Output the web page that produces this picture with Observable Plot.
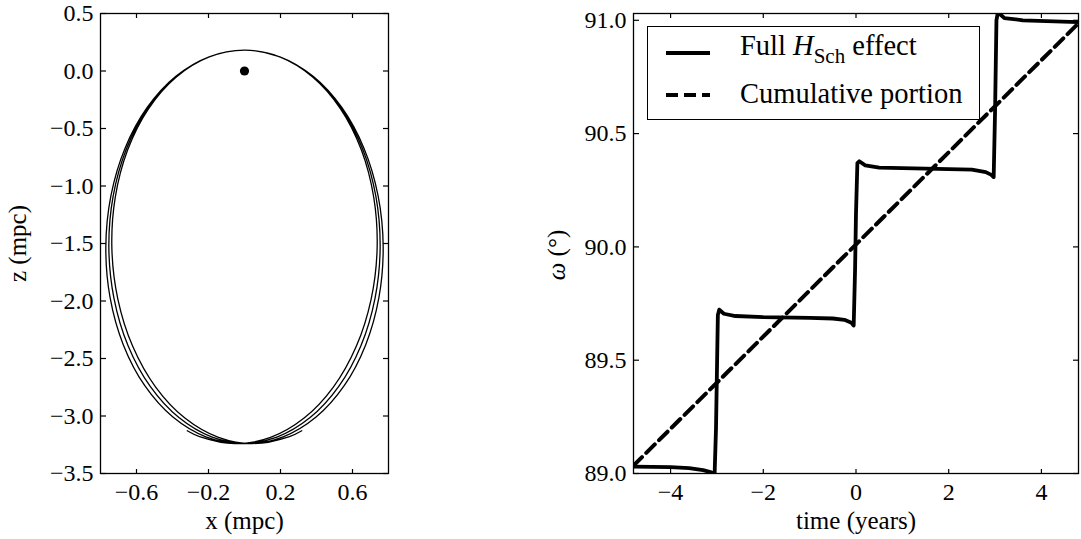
<!DOCTYPE html>
<html>
<head>
<meta charset="utf-8">
<script src="https://cdn.jsdelivr.net/npm/d3@7"></script>
<script src="https://cdn.jsdelivr.net/npm/@observablehq/plot@0.6"></script>
<style>
html, body { margin: 0; padding: 0; background: #fff; }
#wrap { position: relative; width: 1081px; height: 539px; overflow: hidden; font-family: "Liberation Serif", "Times New Roman", serif; }
.panel { position: absolute; top: 0; }
.panel text { font-family: "Liberation Serif", "Times New Roman", serif !important; }
#ylab2 { position: absolute; left: 557px; top: 255px; transform: translate(-50%, -50%) rotate(-90deg); font-size: 25px; white-space: nowrap; color: #000; }
#legend { position: absolute; left: 647px; top: 26px; width: 333px; height: 94px; box-sizing: border-box; border: 1.3px solid #000; background: #fff; }
#legend text { font-family: "Liberation Serif", "Times New Roman", serif; }
</style>
</head>
<body>
<div id="wrap"></div>
<script>
// ---------- Left panel: orbit in the x-z plane (mpc) ----------
const orbitX = [
  -0.3182, -0.2497, -0.0535, 0.1447, 0.3313, 0.4936, 0.6205, 0.7034, 0.7368, 0.7181, 0.6488, 0.5335, 0.3802, 0.1992, 0.0030,
  -0.1965, -0.3813, -0.5406, -0.6636, -0.7420, -0.7704, -0.7469, -0.6730, -0.5539, -0.3976, -0.2147, -0.0178, 0.1797, 0.3644, 0.5237, 0.6468, 0.7251, 0.7536, 0.7300, 0.6562, 0.5370, 0.3807, 0.1979, 0.0010,
  -0.1979, -0.3807, -0.5370, -0.6562, -0.7300, -0.7536, -0.7251, -0.6468, -0.5237, -0.3644, -0.1797, 0.0178, 0.2147, 0.3976, 0.5539, 0.6730, 0.7469, 0.7704, 0.7420, 0.6636, 0.5406, 0.3813, 0.1965, -0.0010,
  -0.1992, -0.3802, -0.5335, -0.6488, -0.7181, -0.7368, -0.7034, -0.6205, -0.4936, -0.3313, -0.1447, 0.0535, 0.2497, 0.3182
];
const orbitZ = [
  -3.1286, -3.1794, -3.241, -3.1860, -3.0181, -2.7488, -2.3964, -1.9849, -1.5426, -1.0993, -0.6854, -0.3290, -0.0545, 0.1194, 0.181,
  0.1238, -0.0461, -0.3171, -0.6709, -1.0832, -1.5258, -1.9688, -2.3819, -2.7369, -3.0097, -3.1816, -3.241, -3.1838, -3.0139, -2.7429, -2.3891, -1.9768, -1.5342, -1.0912, -0.6781, -0.3231, -0.0503, 0.1216, 0.181,
  0.1216, -0.0503, -0.3231, -0.6781, -1.0912, -1.5342, -1.9768, -2.3891, -2.7429, -3.0139, -3.1838, -3.241, -3.1816, -3.0097, -2.7369, -2.3819, -1.9688, -1.5258, -1.0832, -0.6709, -0.3171, -0.0461, 0.1238, 0.181,
  0.1194, -0.0545, -0.3290, -0.6854, -1.0993, -1.5426, -1.9849, -2.3964, -2.7488, -3.0181, -3.1860, -3.241, -3.1794, -3.1286
];
const holeX = [0];
const holeZ = [0];
const xTicksLeft = [-0.6, -0.2, 0.2, 0.6];
const zTicks = [-3.5, -3.0, -2.5, -2.0, -1.5, -1.0, -0.5, 0.0, 0.5];

// ---------- Right panel: omega (deg) vs time (years) ----------
const timeYears = [-4.8, -4.0, -3.6, -3.3, -3.12, -3.05, -3.02, -3.0, -2.98, -2.95, -2.85, -2.6, -2.0, -1.0, -0.5, -0.25, -0.1, -0.05, -0.02, 0.0, 0.03, 0.07, 0.2, 0.5, 1.5, 2.5, 2.8, 2.92, 2.97, 3.0, 3.03, 3.06, 3.2, 3.6, 4.8];
const omegaFull = [89.030, 89.028, 89.024, 89.015, 89.005, 88.998, 89.2, 89.45, 89.70, 89.723, 89.705, 89.695, 89.69, 89.687, 89.684, 89.678, 89.665, 89.653, 89.9, 90.15, 90.37, 90.378, 90.36, 90.35, 90.345, 90.341, 90.33, 90.318, 90.308, 90.6, 91.0, 91.035, 91.01, 91.0, 90.992];
const cumulativeTime = [-4.8, 4.8];
const omegaCumulative = [89.035, 90.987];
const timeTicks = [-4, -2, 0, 2, 4];
const omegaTicks = [89.0, 89.5, 90.0, 90.5, 91.0];

const FONT = '"Liberation Serif", "Times New Roman", serif';
const TICK_FS = 24;
const LABEL_FS = 25;

function frameAxes(xt, yt, fx, fy, xLabel, yLabel, yLabelOffset) {
  const blank = () => "";
  const marks = [
    // tick labels
    Plot.axisX(xt, {anchor: "bottom", tickSize: 0, tickPadding: 9, tickFormat: fx, fontSize: TICK_FS, fontFamily: FONT, label: null}),
    Plot.axisY(yt, {anchor: "left", tickSize: 0, tickPadding: 7, tickFormat: fy, fontSize: TICK_FS, fontFamily: FONT, label: null}),
    // axis titles
    Plot.axisX(xt, {anchor: "bottom", tickSize: 0, tickFormat: blank, fontSize: LABEL_FS, fontFamily: FONT,
      label: xLabel, labelAnchor: "center", labelOffset: 55, labelArrow: "none"}),
    // inward ticks on all four sides
    Plot.axisX(xt, {anchor: "top", frameAnchor: "bottom", tickSize: 5, tickFormat: blank, label: null, strokeWidth: 1.2}),
    Plot.axisX(xt, {anchor: "bottom", frameAnchor: "top", tickSize: 5, tickFormat: blank, label: null, strokeWidth: 1.2}),
    Plot.axisY(yt, {anchor: "right", frameAnchor: "left", tickSize: 5, tickFormat: blank, label: null, strokeWidth: 1.2}),
    Plot.axisY(yt, {anchor: "left", frameAnchor: "right", tickSize: 5, tickFormat: blank, label: null, strokeWidth: 1.2}),
    Plot.frame({stroke: "black", strokeWidth: 1.3})
  ];
  if (yLabel) {
    marks.push(Plot.axisY(yt, {anchor: "left", tickSize: 0, tickFormat: blank, fontSize: LABEL_FS, fontFamily: FONT,
      label: yLabel, labelAnchor: "center", labelOffset: yLabelOffset, labelArrow: "none"}));
  }
  return marks;
}

const orbit = orbitX.map((x, i) => ({x, z: orbitZ[i]}));
const hole = holeX.map((x, i) => ({x, z: holeZ[i]}));

const left = Plot.plot({
  width: 540, height: 539,
  marginLeft: 100, marginRight: 152, marginTop: 13, marginBottom: 66,
  style: {fontFamily: FONT, fontSize: TICK_FS + "px", background: "transparent", color: "black", overflow: "visible"},
  x: {domain: [-0.8, 0.8]},
  y: {domain: [-3.5, 0.5]},
  marks: [
    Plot.line(orbit, {x: "x", y: "z", curve: "catmull-rom", stroke: "black", strokeWidth: 1.3}),
    Plot.dot(hole, {x: "x", y: "z", r: 4.6, fill: "black", stroke: "none"}),
    ...frameAxes(xTicksLeft, zTicks, d3.format(".1f"), d3.format(".1f"), "x (mpc)", "z (mpc)", 92)
  ]
});
left.classList.add("panel");
left.style.left = "0px";

const full = timeYears.map((t, i) => ({t, w: omegaFull[i]}));
const cumul = cumulativeTime.map((t, i) => ({t, w: omegaCumulative[i]}));

const right = Plot.plot({
  width: 541, height: 539,
  marginLeft: 93, marginRight: 3, marginTop: 13, marginBottom: 66,
  style: {fontFamily: FONT, fontSize: TICK_FS + "px", background: "transparent", color: "black", overflow: "visible"},
  x: {domain: [-4.8, 4.8]},
  y: {domain: [89.0, 91.03]},
  marks: [
    Plot.line(full, {x: "t", y: "w", stroke: "black", strokeWidth: 3.8, strokeLinejoin: "round", clip: true}),
    Plot.line(cumul, {x: "t", y: "w", stroke: "black", strokeWidth: 4, strokeDasharray: "12,6", clip: true}),
    ...frameAxes(timeTicks, omegaTicks, d3.format("d"), d3.format(".1f"), "time (years)", null, 80)
  ]
});
right.classList.add("panel");
right.style.left = "540px";

const wrap = document.getElementById("wrap");
wrap.appendChild(left);
wrap.appendChild(right);

const yl = document.createElement("div");
yl.id = "ylab2";
yl.innerHTML = "<i>ω</i> (°)";
wrap.appendChild(yl);

const lg = document.createElement("div");
lg.id = "legend";
lg.innerHTML = `
<svg width="331" height="92" style="position:absolute;left:0;top:0">
  <line x1="18" x2="62" y1="26" y2="26" stroke="#000" stroke-width="4"/>
  <line x1="18" x2="62" y1="68" y2="68" stroke="#000" stroke-width="4" stroke-dasharray="12,6"/>
  <text x="92" y="28" font-size="28.5" fill="#000">Full <tspan font-style="italic">H</tspan><tspan dy="8" font-size="21">Sch</tspan><tspan dy="-8"> effect</tspan></text>
  <text x="92" y="76" font-size="28.5" fill="#000">Cumulative portion</text>
</svg>`;
wrap.appendChild(lg);
</script>
</body>
</html>
